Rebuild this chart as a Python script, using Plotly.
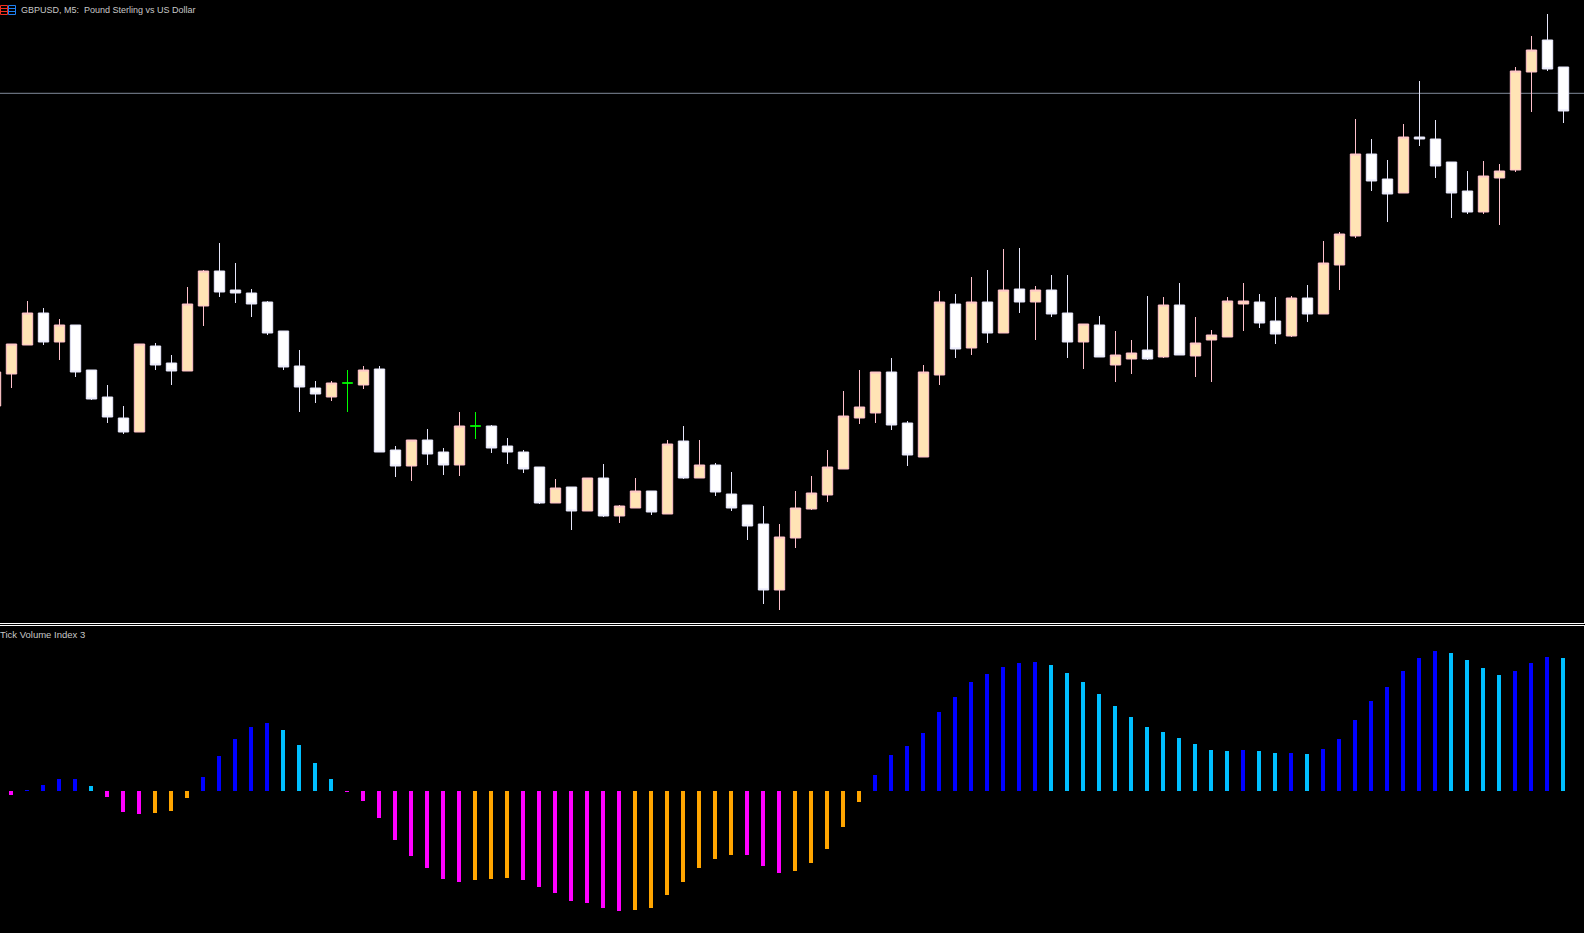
import numpy as np
import plotly.graph_objects as go

# prices are in points above an arbitrary level, the chart has no price labels
opens = [214, 246, 275, 307, 278, 295, 250, 223, 202, 188,
         274, 257, 249, 314, 349, 330, 327, 318, 289, 254,
         232, 223, 237, 235, 251, 170, 154, 180, 168, 155,
         194, 194, 174, 168, 153, 117, 133, 109, 142, 104,
         112, 129, 106, 179, 142, 155, 126, 115, 96, 30,
         82, 111, 125, 151, 202, 207, 248, 197, 163, 245,
         316, 272, 318, 287, 331, 318, 330, 307, 278, 295,
         255, 261, 270, 263, 315, 264, 280, 283, 316, 318,
         299, 284, 322, 306, 355, 384, 466, 441, 427, 483,
         481, 458, 429, 408, 442, 450, 548, 580, 553]
highs = [248, 276, 319, 312, 301, 295, 250, 235, 214, 276,
         277, 265, 333, 350, 377, 357, 331, 319, 289, 270,
         239, 239, 250, 254, 254, 174, 180, 191, 172, 208,
         208, 195, 182, 170, 153, 141, 133, 142, 156, 115,
         142, 129, 180, 194, 180, 157, 148, 115, 114, 96,
         129, 144, 170, 229, 250, 248, 262, 199, 255, 329,
         326, 343, 350, 371, 372, 334, 345, 345, 296, 304,
         289, 280, 324, 323, 337, 303, 290, 323, 337, 326,
         323, 324, 335, 379, 388, 501, 481, 460, 496, 539,
         500, 458, 449, 459, 456, 553, 584, 606, 553]
lows = [214, 232, 275, 275, 260, 243, 220, 197, 186, 188,
        250, 235, 249, 294, 323, 317, 303, 285, 250, 208,
        217, 219, 208, 231, 168, 143, 139, 155, 145, 144,
        181, 167, 156, 147, 116, 117, 90, 109, 103, 97,
        112, 105, 106, 141, 142, 124, 109, 80, 16, 10,
        72, 110, 118, 151, 196, 197, 190, 154, 163, 235,
        262, 265, 277, 287, 307, 280, 303, 262, 251, 263,
        238, 246, 260, 262, 265, 243, 238, 283, 289, 292,
        276, 283, 298, 306, 330, 382, 429, 398, 427, 474,
        442, 402, 406, 406, 395, 448, 508, 549, 497]
closes = [248, 276, 307, 278, 295, 248, 221, 203, 188, 276,
          255, 249, 316, 349, 328, 327, 316, 287, 253, 233,
          226, 237, 237, 250, 168, 154, 180, 166, 155, 194,
          194, 172, 168, 151, 117, 132, 109, 142, 104, 114,
          129, 108, 176, 142, 155, 128, 112, 94, 30, 83,
          112, 127, 153, 204, 213, 248, 195, 165, 248, 318,
          271, 318, 287, 330, 318, 330, 306, 278, 296, 263,
          265, 267, 261, 315, 265, 277, 285, 319, 319, 297,
          286, 322, 306, 357, 386, 466, 439, 426, 483, 481,
          454, 427, 408, 444, 449, 549, 570, 551, 509]
price_line = 526.7

tvi_values = [-3, -4, 1, 6, 12, 12, 5, -6, -21, -23,
              -22, -20, -7, 14, 35, 52, 64, 68, 61, 46,
              28, 12, -1, -10, -27, -49, -65, -77, -88, -91,
              -89, -88, -87, -89, -96, -102, -110, -112, -117, -120,
              -119, -117, -104, -91, -77, -68, -64, -64, -75, -82,
              -80, -72, -58, -36, -11, 16, 36, 45, 58, 79,
              94, 109, 117, 124, 128, 129, 126, 118, 109, 97,
              85, 74, 64, 59, 53, 47, 41, 40, 41, 40,
              38, 38, 37, 42, 52, 71, 90, 104, 120, 133,
              140, 138, 131, 123, 116, 120, 128, 134, 133]
# state of each bar: b rising above zero, s falling above zero, m falling below zero, o rising below zero
tvi_states = list("mmbbbbsmmm" "ooobbbbbss" "ssmmmmmmmm" "ooommmmmmm" "ooooooommm"
                  "ooooobbbbb" "bbbbbbssss" "ssssssssbs" "sbsbbbbbbb" "bssssbbbs")

state_colors = {"b": "#0000FF", "s": "#00BFFF", "m": "#FF00FF", "o": "#FFA500"}
bar_index = np.arange(len(opens))
doji = np.array(opens) == np.array(closes)
body = ~doji

W, H = 1585, 933


def px_x(x):
    return x / (W - 1)


def px_y(y):
    return 1 - y / H


def icon_shapes(x0, x1, color):
    shapes = [dict(type="rect", xref="paper", yref="paper", x0=px_x(x0), x1=px_x(x1),
                   y0=px_y(5.5), y1=px_y(14.5), line=dict(color=color, width=1))]
    for y in (8.5, 11.5):
        shapes.append(dict(type="line", xref="paper", yref="paper", x0=px_x(x0), x1=px_x(x1),
                           y0=px_y(y), y1=px_y(y), line=dict(color=color, width=1)))
    return shapes


fig = go.Figure()
fig.add_trace(go.Candlestick(
    x=bar_index[body], open=np.array(opens)[body], high=np.array(highs)[body],
    low=np.array(lows)[body], close=np.array(closes)[body],
    increasing=dict(line=dict(color="#FFC0CB", width=1), fillcolor="#FFE4B5"),
    decreasing=dict(line=dict(color="#E6E6FA", width=1), fillcolor="#FFFFFF"),
    whiskerwidth=0, xaxis="x", yaxis="y", showlegend=False))
fig.add_trace(go.Candlestick(
    x=bar_index[doji], open=np.array(opens)[doji], high=np.array(highs)[doji],
    low=np.array(lows)[doji], close=np.array(closes)[doji],
    increasing=dict(line=dict(color="#00FF00", width=1), fillcolor="#00FF00"),
    decreasing=dict(line=dict(color="#00FF00", width=1), fillcolor="#00FF00"),
    whiskerwidth=0, xaxis="x", yaxis="y", showlegend=False))
fig.add_trace(go.Bar(
    x=bar_index, y=tvi_values, width=0.25, xaxis="x2", yaxis="y2",
    marker=dict(color=[state_colors[s] for s in tvi_states], line=dict(width=0)),
    showlegend=False))

x_range = [0.281, 99.281]
# the histogram bars sit half a pixel left of the candles
x2_range = [0.312, 99.312]
fig.update_layout(
    width=W, height=H, margin=dict(l=0, r=1, t=0, b=0),
    paper_bgcolor="#000000", plot_bgcolor="#000000",
    boxgap=0.35, boxgroupgap=0, bargap=0, hovermode=False,
    xaxis=dict(domain=[0, 1], range=x_range, anchor="y", showgrid=False, zeroline=False,
               showticklabels=False, ticks="", rangeslider=dict(visible=False),
               showline=True, linecolor="#FFFFFF", linewidth=1),
    yaxis=dict(domain=[px_y(623), 1], range=[-3, 620], anchor="x", side="right",
               showgrid=False, zeroline=False, showticklabels=False,
               ticks="outside", ticklen=1, tickcolor="#FFFFFF", tick0=607.3, dtick=33.8,
               showline=True, linecolor="#FFFFFF", linewidth=1),
    xaxis2=dict(domain=[0, 1], range=x2_range, anchor="y2", side="top", showgrid=False,
                zeroline=False, showticklabels=False, ticks="",
                showline=True, linecolor="#FFFFFF", linewidth=1),
    yaxis2=dict(domain=[0, px_y(626)], range=[-142, 165], anchor="x2", side="right",
                showgrid=False, zeroline=False, showticklabels=False, ticks="",
                showline=True, linecolor="#FFFFFF", linewidth=1),
    shapes=[
        dict(type="line", xref="x", yref="y", layer="below", x0=x_range[0], x1=x_range[1],
             y0=price_line, y1=price_line, line=dict(color="#808A9A", width=1)),
    ] + icon_shapes(0.5, 7.5, "#F03020") + icon_shapes(8.5, 15.5, "#2080F0"),
    annotations=[
        dict(text="GBPUSD, M5:  Pound Sterling vs US Dollar", xref="paper", yref="paper",
             x=px_x(19.5), y=px_y(9.5), xanchor="left", yanchor="middle", showarrow=False, xshift=-1,
             font=dict(family="Liberation Sans", size=9, color="#C8C8C8")),
        dict(text="Tick Volume Index 3", xref="paper", yref="paper",
             x=0, y=px_y(634.5), xanchor="left", yanchor="middle", showarrow=False, xshift=-2,
             font=dict(family="Liberation Sans", size=9.5, color="#C8C8C8")),
    ],
)

fig.write_html("out.html", config=dict(displayModeBar=False),
               post_script="document.body.style.margin='0';document.documentElement.style.overflow='hidden';")
